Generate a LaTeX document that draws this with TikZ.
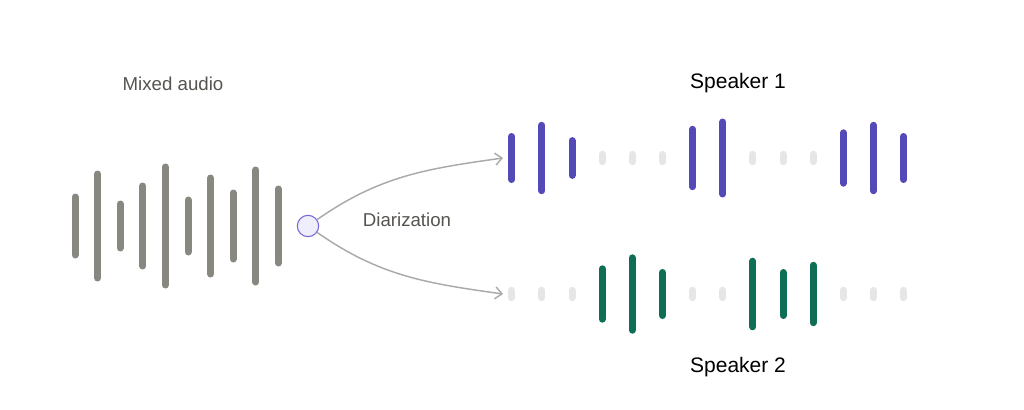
\documentclass[tikz,border=0pt]{standalone}
\usepackage{fontspec}
\setmainfont{Liberation Sans}
\usetikzlibrary{arrows.meta}
\definecolor{wavegray}{HTML}{888780}
\definecolor{spkpurple}{HTML}{534AB7}
\definecolor{spkgreen}{HTML}{0F6E56}
\definecolor{silentgray}{HTML}{E6E6E6}
\definecolor{labelgray}{HTML}{55544F}
\definecolor{arrowgray}{HTML}{AAAAAA}
\definecolor{hubedge}{HTML}{7466D8}
\definecolor{hubfill}{HTML}{EEEEFC}
\begin{document}
\begin{tikzpicture}[
                x=0.75pt, y=-0.75pt,
                wavebar/.style={line width=5.25pt, line cap=round},
                mixed/.style={wavebar, draw=wavegray},
                spkone/.style={wavebar, draw=spkpurple},
                spktwo/.style={wavebar, draw=spkgreen},
                silent/.style={wavebar, draw=silentgray},
                graytext/.style={font=\fontsize{14}{16}\selectfont, text=labelgray},
                speakertext/.style={font=\fontsize{15.75}{18}\selectfont, text=black},
                hub/.style={circle, draw=hubedge, fill=hubfill, line width=0.8pt, minimum size=16pt, inner sep=0pt},
                split/.style={draw=arrowgray, line width=1.1pt, -{Straight Barb[length=5pt,width=9pt]}}
            ]
            \useasboundingbox (0,0) rectangle (1024,410);

            % Mixed audio
            \node[graytext] (mixlbl) at (173,84) {Mixed audio};
            \foreach \x/\h in {75/29, 97.6/52, 120.2/22, 142.8/40, 165.4/59, 188/26, 210.6/48, 233.2/33, 255.8/56, 278.4/37} {
                \draw[mixed] (\x,{226-\h}) -- (\x,{226+\h});
            }

            % Diarization
            \node[hub] (hub) at (308,226) {};
            \node[graytext] (diarlbl) at (407,220) {Diarization};
            \coordinate (s1in) at (503,158);
            \coordinate (s2in) at (503,294);
            \draw[split] (hub) to[out=35, in=188] (s1in);
            \draw[split] (hub) to[out=-35, in=172] (s2in);

            % Speaker 1
            \node[speakertext] (spkonelbl) at (738,83) {Speaker 1};
            \foreach \i/\h in {0/21.5, 1/32.7, 2/17.4, 6/28.7, 7/36, 11/25.2, 12/32.7, 13/21.5} {
                \draw[spkone] ({511.7+30.15*\i},{158-\h}) -- ({511.7+30.15*\i},{158+\h});
            }
            \foreach \i in {3,4,5,8,9,10} {
                \draw[silent] ({511.7+30.15*\i},154.3) -- ({511.7+30.15*\i},161.7);
            }

            % Speaker 2
            \node[speakertext] (spktwolbl) at (738,367) {Speaker 2};
            \foreach \i/\h in {3/25.2, 4/36.2, 5/21.5, 8/32.8, 9/21.5, 10/28.7} {
                \draw[spktwo] ({511.7+30.15*\i},{294-\h}) -- ({511.7+30.15*\i},{294+\h});
            }
            \foreach \i in {0,1,2,6,7,11,12,13} {
                \draw[silent] ({511.7+30.15*\i},290.3) -- ({511.7+30.15*\i},297.7);
            }
        \end{tikzpicture}
\end{document}
